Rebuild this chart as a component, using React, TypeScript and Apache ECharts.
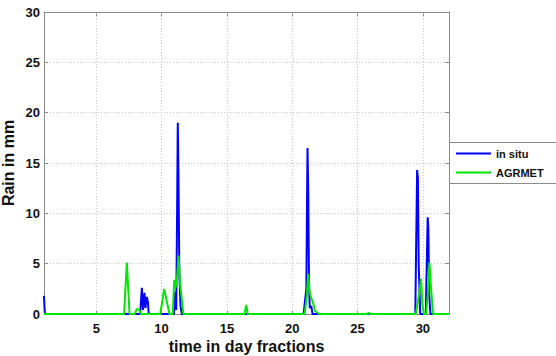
import React, { useEffect, useRef } from "react";
import * as echarts from "echarts";

// time in day fractions and rain in mm
const inSituTime = [1, 1.05, 1.1, 8.36, 8.49, 8.58, 8.69, 8.77, 8.87, 8.95, 9.02, 10.95, 11.04, 11.12, 11.2, 11.24, 11.29, 11.36, 11.45, 11.55, 20.87, 21.08, 21.17, 21.23, 21.28, 21.34, 21.45, 21.56, 29.42, 29.56, 29.62, 29.68, 29.8, 30.22, 30.37, 30.42, 30.48, 30.58, 32];
const inSituRain = [1.8, 0.3, 0, 0, 2.6, 0.4, 2.1, 0.6, 1.7, 1.2, 0, 0, 2.2, 0.4, 12, 19.0, 14, 4, 0.8, 0, 0, 2.5, 16.5, 12, 3.5, 0.6, 0.8, 0, 0, 14.3, 13.5, 5, 0, 0, 9.6, 8.5, 2, 0, 0];

const agrmetTime = [1, 7.13, 7.34, 7.55, 7.95, 8.1, 8.3, 8.4, 9.9, 10.2, 10.6, 10.85, 10.97, 11.05, 11.15, 11.3, 11.42, 11.67, 16.35, 16.48, 16.6, 20.95, 21.12, 21.22, 21.33, 21.45, 21.58, 21.75, 22.07, 25.7, 25.85, 26.0, 29.45, 29.62, 29.86, 29.96, 30.08, 30.25, 30.38, 30.5, 30.6, 30.78, 32];
const agrmetRain = [0, 0, 5.1, 0, 0, 0.5, 0.4, 0, 0, 2.5, 0, 0, 3.4, 2.6, 3.0, 5.8, 3.0, 0, 0, 0.9, 0, 0, 1.8, 4.0, 2.2, 1.6, 1.2, 0.3, 0, 0, 0.1, 0, 0, 1.2, 3.5, 1.0, 0, 0, 2.0, 5.1, 3.0, 0, 0];

const xTicks = [5, 10, 15, 20, 25, 30];
const seriesNames = ["in situ", "AGRMET"];

const FONT = "Liberation Sans, Arial, sans-serif";

export default function App() {
  const ref = useRef<HTMLDivElement>(null);
  useEffect(() => {
    document.body.style.margin = "0";
    if (!ref.current) return;
    const chart = echarts.init(ref.current, undefined, { renderer: "svg" });
    const pairs = (t: number[], v: number[]) => t.map((x, i) => [x, v[i]]);
    const axisLineColor = "#8a8a8a";
    const gridColor = "#c8c8c8";
    chart.setOption({
      animation: false,
      backgroundColor: "#ffffff",
      grid: { left: 44, top: 12, right: 107, bottom: 42, containLabel: false, outerBoundsMode: "none" },
      xAxis: [
        {
          type: "value",
          min: 1,
          max: 32,
          position: "bottom",
          name: "time in day fractions",
          nameLocation: "middle",
          nameGap: 24,
          nameMoveOverlap: false,
          nameTextStyle: { fontFamily: FONT, fontWeight: "bold", fontSize: 16, color: "#111" },
          axisLine: { show: true, onZero: false, lineStyle: { color: axisLineColor, width: 1 } },
          axisTick: { show: true, inside: true, length: 4, customValues: xTicks, lineStyle: { color: axisLineColor } },
          axisLabel: { customValues: xTicks, margin: 8, fontFamily: FONT, fontWeight: "bold", fontSize: 13, color: "#111" },
          splitLine: { show: false },
        },
        {
          type: "value",
          min: 1,
          max: 32,
          position: "top",
          axisLine: { show: true, onZero: false, lineStyle: { color: axisLineColor, width: 1 } },
          axisTick: { show: true, inside: true, length: 4, customValues: xTicks, lineStyle: { color: axisLineColor } },
          axisLabel: { show: false },
          splitLine: { show: false },
        },
      ],
      yAxis: [
        {
          type: "value",
          min: 0,
          max: 30,
          interval: 5,
          position: "left",
          name: "Rain in mm",
          nameLocation: "middle",
          nameGap: 28,
          nameMoveOverlap: false,
          nameRotate: 90,
          nameTextStyle: { fontFamily: FONT, fontWeight: "bold", fontSize: 16, color: "#111" },
          axisLine: { show: true, onZero: false, lineStyle: { color: axisLineColor, width: 1 } },
          axisTick: { show: true, inside: true, length: 4, lineStyle: { color: axisLineColor } },
          axisLabel: { margin: 4, fontFamily: FONT, fontWeight: "bold", fontSize: 13, color: "#111" },
          splitLine: { show: true, lineStyle: { color: gridColor, type: [1, 2], width: 1 } },
        },
        {
          type: "value",
          min: 0,
          max: 30,
          interval: 5,
          position: "right",
          axisLine: { show: true, onZero: false, lineStyle: { color: axisLineColor, width: 1 } },
          axisTick: { show: true, inside: true, length: 4, lineStyle: { color: axisLineColor } },
          axisLabel: { show: false },
          splitLine: { show: false },
        },
      ],
      legend: {
        orient: "vertical",
        left: 449,
        top: 142,
        padding: [5, 6, 5, 7],
        itemGap: 6,
        itemWidth: 35,
        itemHeight: 2,
        icon: "rect",
        z: 10,
        data: seriesNames,
        textStyle: { fontFamily: FONT, fontWeight: "bold", fontSize: 11, color: "#111", lineHeight: 13 },
      },
      graphic: [
        {
          type: "rect",
          z: 1,
          shape: { x: 449.5, y: 142.5, width: 120, height: 41 },
          style: { fill: "#ffffff", stroke: "#8a8a8a", lineWidth: 1 },
        },
      ],
      series: [
        {
          name: seriesNames[0],
          type: "line",
          symbol: "none",
          data: pairs(inSituTime, inSituRain),
          lineStyle: { color: "#0000ff", width: 2 },
          itemStyle: { color: "#0000ff" },
          z: 3,
          markLine: {
            silent: true,
            symbol: "none",
            label: { show: false },
            lineStyle: { color: gridColor, type: [1, 2], width: 1 },
            data: xTicks.map((x) => ({ xAxis: x })),
            z: 1,
          },
        },
        {
          name: seriesNames[1],
          type: "line",
          symbol: "none",
          data: pairs(agrmetTime, agrmetRain),
          lineStyle: { color: "#00e600", width: 2 },
          itemStyle: { color: "#00e600" },
          z: 4,
        },
      ],
    });
    return () => chart.dispose();
  }, []);
  return <div ref={ref} style={{ width: 556, height: 356 }} />;
}
